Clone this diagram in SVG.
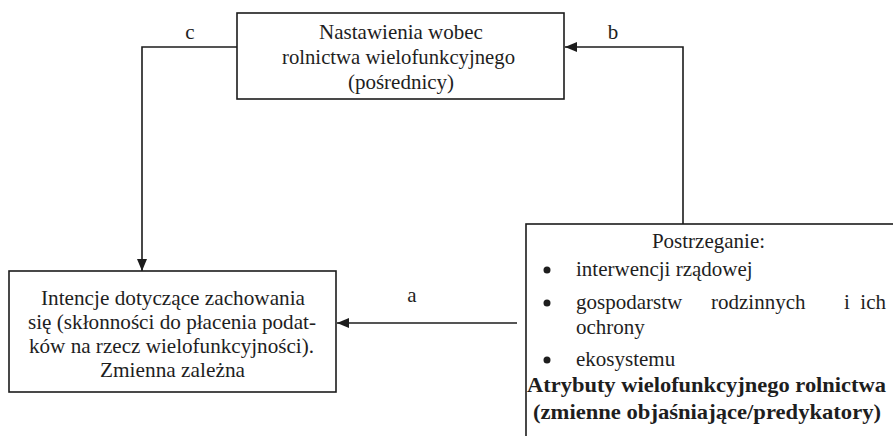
<svg xmlns="http://www.w3.org/2000/svg" width="893" height="436" viewBox="0 0 893 436">
  <defs>
    <style>
      .box { fill: #ffffff; stroke: #1c1c1c; stroke-width: 1.6; }
      .wire { fill: none; stroke: #1c1c1c; stroke-width: 1.6; }
      .t { font-family: "Liberation Serif", "Times New Roman", serif; font-size: 21px; fill: #1e1e1e; }
      .c { text-anchor: middle; }
      .e { text-anchor: end; }
      .b { font-weight: bold; font-size: 22px; }
      .dot { fill: #1e1e1e; }
    </style>
    <marker id="arrow" viewBox="0 0 12 10" refX="12" refY="5" markerWidth="12" markerHeight="10" markerUnits="userSpaceOnUse" orient="auto">
      <path d="M0,0 L12,5 L0,10 Z" fill="#1c1c1c"/>
    </marker>
  </defs>

  <rect width="893" height="436" fill="#ffffff"/>

  <!-- connectors -->
  <g id="connectors">
    <!-- c: mediator to dependent variable -->
    <path class="wire" d="M237,47 H142 V271" marker-end="url(#arrow)"/>
    <!-- b: attributes to mediator -->
    <path class="wire" d="M683,224 V47 H565" marker-end="url(#arrow)"/>
    <!-- a: attributes to dependent variable -->
    <path class="wire" d="M517,323 H337" marker-end="url(#arrow)"/>
    <text class="t c" x="190" y="39">c</text>
    <text class="t c" x="613" y="39">b</text>
    <text class="t c" x="412" y="302">a</text>
  </g>

  <!-- mediator -->
  <g id="mediator">
    <rect class="box" x="237" y="13" width="327" height="86"/>
    <text class="t c" x="401" y="39">Nastawienia wobec</text>
    <text class="t c" x="398.5" y="64" textLength="233" lengthAdjust="spacingAndGlyphs">rolnictwa wielofunkcyjnego</text>
    <text class="t c" x="401" y="89">(pośrednicy)</text>
  </g>

  <!-- dependent variable -->
  <g id="dependent">
    <rect class="box" x="9" y="271" width="327" height="121"/>
    <text class="t c" x="173" y="305" textLength="264" lengthAdjust="spacingAndGlyphs">Intencje dotyczące zachowania</text>
    <text class="t c" x="172" y="329" textLength="288" lengthAdjust="spacingAndGlyphs">się (skłonności do płacenia podat-</text>
    <text class="t c" x="171.5" y="353" textLength="285" lengthAdjust="spacingAndGlyphs">ków na rzecz wielofunkcyjności).</text>
    <text class="t c" x="172.5" y="377" textLength="145" lengthAdjust="spacingAndGlyphs">Zmienna zależna</text>
  </g>

  <!-- explanatory attributes -->
  <g id="attributes">
    <rect class="box" x="526" y="224" width="380" height="230"/>
    <text class="t c" x="708.5" y="248">Postrzeganie:</text>
    <circle class="dot" cx="547" cy="270" r="3.5"/>
    <text class="t" x="576" y="276">interwencji rządowej</text>
    <circle class="dot" cx="547" cy="303" r="3.5"/>
    <!-- justified line -->
    <text class="t" x="576" y="309">gospodarstw</text>
    <text class="t" x="711" y="309">rodzinnych</text>
    <text class="t" x="844" y="309">i</text>
    <text class="t e" x="886" y="309">ich</text>
    <text class="t" x="576" y="334">ochrony</text>
    <circle class="dot" cx="547" cy="360" r="3.5"/>
    <text class="t" x="576" y="366">ekosystemu</text>
    <text class="t c b" x="706.5" y="392" textLength="359" lengthAdjust="spacingAndGlyphs">Atrybuty wielofunkcyjnego rolnictwa</text>
    <text class="t c b" x="707" y="419" textLength="348" lengthAdjust="spacingAndGlyphs">(zmienne objaśniające/predykatory)</text>
  </g>
</svg>
